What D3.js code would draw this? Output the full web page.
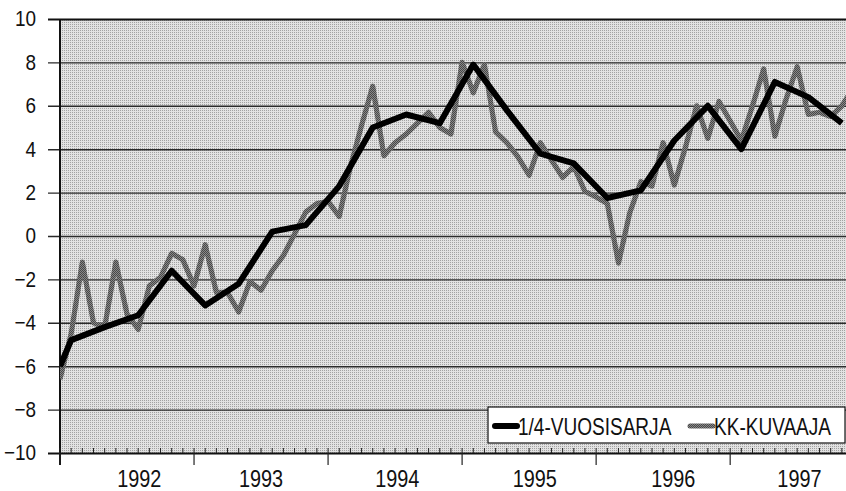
<!DOCTYPE html>
<html>
<head>
<meta charset="utf-8">
<script src="https://cdn.jsdelivr.net/npm/d3@7"></script>
<style>
  html, body { margin: 0; padding: 0; background: #fff; }
  svg { display: block; }
  text { font-family: "Liberation Sans", Arial, sans-serif; fill: #111; }
</style>
</head>
<body>
<div id="chart"></div>
<script>
// monthly series, January 1992 onwards
var kkValues = [
  -6.6, -4.5, -1.2, -4.0, -4.2, -1.2, -3.6, -4.3, -2.3, -1.9, -0.8, -1.1,
  -2.3, -0.4, -2.6, -2.6, -3.5, -2.1, -2.5, -1.6, -0.9, 0.1, 1.1, 1.5,
  1.6, 0.9, 3.2, 5.1, 6.9, 3.7, 4.3, 4.7, 5.2, 5.7, 5.0, 4.7,
  8.0, 6.6, 7.9, 4.8, 4.3, 3.65, 2.8, 4.3, 3.5, 2.7, 3.2, 2.05,
  1.8, 1.5, -1.25, 1.05, 2.5, 2.3, 4.3, 2.35, 4.1, 6.0, 4.5, 6.2,
  5.3, 4.4, 6.0, 7.7, 4.6, 6.3, 7.8, 5.6, 5.7, 5.5, 6.0, 6.8
];

// quarterly series: month index (from Jan 1992) and value
var quarterMonths = [0, 1, 4, 7, 10, 13, 16, 19, 22, 25, 28, 31, 34, 37, 40, 43, 46, 49, 52, 55, 58, 61, 64, 67, 70];
var quarterValues = [-6.0, -4.8, -4.2, -3.65, -1.6, -3.2, -2.2, 0.2, 0.5, 2.3, 5.0, 5.6, 5.2, 7.9, 5.8, 3.8, 3.35, 1.75, 2.1, 4.4, 6.0, 4.0, 7.1, 6.4, 5.2];

var years = [1992, 1993, 1994, 1995, 1996, 1997];
var yearLabelMonths = [7.1, 18.0, 30.2, 42.5, 54.9, 66.2];
var yTicks = [-10, -8, -6, -4, -2, 0, 2, 4, 6, 8, 10];
var seriesNames = ['1/4-VUOSISARJA', 'KK-KUVAAJA'];

var width = 846, height = 491;
var margin = {top: 19, right: 0, bottom: 38, left: 60};
var narrow = 0.81;

var svg = d3.select('#chart').append('svg')
    .attr('width', width)
    .attr('height', height);

var defs = svg.append('defs');
var dots = defs.append('pattern')
    .attr('id', 'dots')
    .attr('width', 2).attr('height', 2)
    .attr('patternUnits', 'userSpaceOnUse');
dots.append('rect').attr('width', 2).attr('height', 2).attr('fill', '#e2e2e2');
dots.append('rect').attr('width', 1).attr('height', 1).attr('fill', '#a2a2a2');

var grayDots = defs.append('pattern')
    .attr('id', 'grayDots')
    .attr('width', 2).attr('height', 2)
    .attr('patternUnits', 'userSpaceOnUse');
grayDots.append('rect').attr('width', 2).attr('height', 2).attr('fill', '#888');
grayDots.append('rect').attr('width', 1).attr('height', 1).attr('fill', '#474747');
grayDots.append('rect').attr('x', 1).attr('y', 1).attr('width', 1).attr('height', 1).attr('fill', '#474747');

defs.append('clipPath').attr('id', 'plotClip')
  .append('rect')
    .attr('x', margin.left).attr('y', 0)
    .attr('width', width - margin.left).attr('height', height);

var x = d3.scaleLinear()
    .domain([0, 70.37])
    .range([margin.left, width - margin.right]);

var y = d3.scaleLinear()
    .domain([-10, 10])
    .range([height - margin.bottom, margin.top]);

// plot background
svg.append('rect')
    .attr('x', x(0)).attr('y', y(10))
    .attr('width', x.range()[1] - x(0))
    .attr('height', y(-10) - y(10))
    .attr('fill', 'url(#dots)');

// horizontal grid + y ticks
var yAxis = d3.axisLeft(y)
    .tickValues(yTicks)
    .tickSize(-(x.range()[1] - x(0)))
    .tickPadding(24)
    .tickFormat(d3.format('d'));

var gy = svg.append('g')
    .attr('transform', 'translate(' + x(0) + ',0)')
    .call(yAxis);
gy.select('.domain').remove();
gy.selectAll('.tick line')
    .attr('x1', -12)
    .attr('stroke', '#2a2a2a')
    .attr('stroke-width', 1.4);
gy.selectAll('.tick').filter(function(d) { return d === 10 || d === -10; })
    .select('line').attr('stroke', '#111').attr('stroke-width', 2);
gy.selectAll('.tick text')
    .attr('font-size', 21.5)
    .attr('fill', '#111')
    .style('font-family', '"Liberation Sans", Arial, sans-serif')
    .attr('transform', 'scale(0.88,1)')
    .attr('x', -24 / 0.88);

// left axis line
svg.append('line')
    .attr('x1', x(0)).attr('x2', x(0))
    .attr('y1', y(10)).attr('y2', y(-10) + 12)
    .attr('stroke', '#111').attr('stroke-width', 2);

// month ticks (short, upward) and year ticks (long, downward)
var monthTicks = d3.range(0, 71);
svg.append('g').selectAll('line')
    .data(monthTicks)
    .enter()
    .append('line')
    .attr('x1', function(d) { return x(d); })
    .attr('x2', function(d) { return x(d); })
    .attr('y1', y(-10))
    .attr('y2', y(-10) - 5)
    .attr('stroke', '#222')
    .attr('stroke-width', 1);

svg.append('g').selectAll('line')
    .data(years)
    .enter()
    .append('line')
    .attr('x1', function(d) { return x((d - 1992) * 12); })
    .attr('x2', function(d) { return x((d - 1992) * 12); })
    .attr('y1', y(-10))
    .attr('y2', y(-10) + 12)
    .attr('stroke', '#222')
    .attr('stroke-width', 1.2);

svg.append('g').selectAll('text')
    .data(years)
    .enter()
    .append('text')
    .attr('transform', function(d, i) {
        return 'translate(' + x(yearLabelMonths[i]) + ',487) scale(' + narrow + ',1)';
    })
    .attr('text-anchor', 'middle')
    .attr('font-size', 24.5)
    .text(function(d) { return d; });

// series
var plot = svg.append('g').attr('clip-path', 'url(#plotClip)');

var kkLine = d3.line()
    .x(function(d, i) { return x(i); })
    .y(function(d) { return y(d); });

plot.append('path')
    .datum(kkValues)
    .attr('d', kkLine)
    .attr('fill', 'none')
    .attr('stroke', 'url(#grayDots)')
    .attr('stroke-width', 5.2)
    .attr('stroke-linejoin', 'round');

var qLine = d3.line()
    .x(function(d, i) { return x(quarterMonths[i]); })
    .y(function(d) { return y(d); });

plot.append('path')
    .datum(quarterValues)
    .attr('d', qLine)
    .attr('fill', 'none')
    .attr('stroke', '#000')
    .attr('stroke-width', 6)
    .attr('stroke-linejoin', 'round');

// legend
var legend = svg.append('g').attr('transform', 'translate(488,407)');
legend.append('rect')
    .attr('width', 357).attr('height', 36)
    .attr('fill', '#fff')
    .attr('stroke', '#111')
    .attr('stroke-width', 1.2);

legend.append('line')
    .attr('x1', 7).attr('x2', 29).attr('y1', 19).attr('y2', 19)
    .attr('stroke', '#000').attr('stroke-width', 6).attr('stroke-linecap', 'round');
legend.append('text')
    .attr('transform', 'translate(30,28) scale(' + narrow + ',1)')
    .attr('font-size', 23.5)
    .text(seriesNames[0]);

legend.append('line')
    .attr('x1', 202).attr('x2', 225).attr('y1', 19).attr('y2', 19)
    .attr('stroke', 'url(#grayDots)').attr('stroke-width', 5).attr('stroke-linecap', 'round');
legend.append('text')
    .attr('transform', 'translate(226,28) scale(' + narrow + ',1)')
    .attr('font-size', 23.5)
    .text(seriesNames[1]);
</script>
</body>
</html>
